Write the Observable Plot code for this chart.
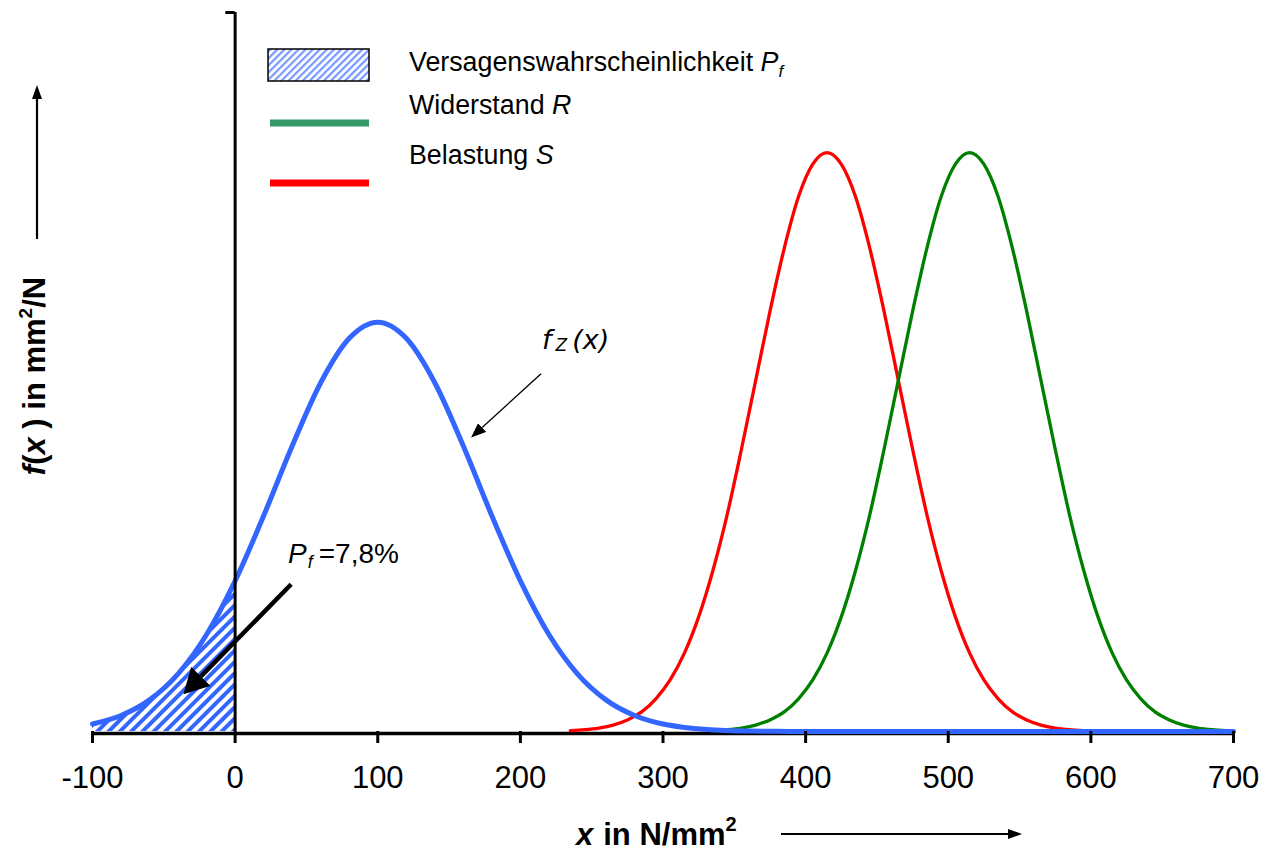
<!DOCTYPE html>
<html>
<head>
<meta charset="utf-8">
<script src="https://cdn.jsdelivr.net/npm/d3@7"></script>
<script src="https://cdn.jsdelivr.net/npm/@observablehq/plot@0.6"></script>
<style>
  html, body { margin: 0; padding: 0; background: #ffffff; }
  #wrap { position: relative; width: 1274px; height: 855px; overflow: hidden; }
  #wrap > svg { position: absolute; left: 0; top: 0; }
  #overlay text { font-family: "Liberation Sans", Arial, sans-serif; fill: #000; }
</style>
</head>
<body>
<div id="wrap"></div>
<script>
// ---------- data ----------
const ticksX = [-100, 0, 100, 200, 300, 400, 500, 600, 700];
const yTop = 9.91;   // top of the y axis (same units as the densities, ×10^-3)

// Belastung S (red)
const sX = [235,245,255,265,275,285,295,305,315,325,335,345,355,365,375,385,395,405,415,
            425,435,445,455,465,475,485,495,505,515,525,535,545,555,565,575,585,595];
const sY = [0.012,0.025,0.048,0.089,0.16,0.27,0.45,0.71,1.08,1.58,2.22,2.99,3.89,4.84,5.79,6.66,7.37,7.82,7.98,
            7.82,7.37,6.66,5.79,4.84,3.89,2.99,2.22,1.58,1.08,0.71,0.45,0.27,0.16,0.089,0.048,0.025,0.012];

// Widerstand R (green)
const rX = [335,345,355,365,375,385,395,405,415,425,435,445,455,465,475,485,495,505,515,
            525,535,545,555,565,575,585,595,605,615,625,635,645,655,665,675,685,695];
const rY = [0.012,0.025,0.048,0.089,0.16,0.27,0.45,0.71,1.08,1.58,2.22,2.99,3.89,4.84,5.79,6.66,7.37,7.82,7.98,
            7.82,7.37,6.66,5.79,4.84,3.89,2.99,2.22,1.58,1.08,0.71,0.45,0.27,0.16,0.089,0.048,0.025,0.012];

// Z = R - S (blue)
const zX = [-100,-80,-60,-40,-20,0,20,40,60,80,100,120,140,160,180,200,220,240,260,280,300,320,340,360,380,400,500,600,700];
const zY = [0.103,0.221,0.436,0.795,1.337,2.075,2.973,3.935,4.807,5.419,5.642,5.419,4.807,3.935,2.973,2.075,
            1.337,0.795,0.436,0.221,0.103,0.045,0.018,0.0065,0.0022,0.0007,0,0,0];

// annotation arrows (start -> base of arrow head), in data units
const arrowFz = [{x1: 214.5, y1: 4.93, x2: 173.2, y2: 4.19}];
const arrowPf = [{x1: 39.3, y1: 2.03, x2: -24.0, y2: 0.76}];

// ---------- tables ----------
const toRows = (xs, ys) => xs.map((x, i) => ({x, y: ys[i]}));
const sData = toRows(sX, sY);
const rData = toRows(rX, rY);
const zData = toRows(zX, zY);
const pfData = zData.filter(d => d.x <= 0);

const chart = Plot.plot({
  width: 1274,
  height: 855,
  marginLeft: 92,
  marginRight: 41,
  marginTop: 12,
  marginBottom: 124,
  x: {domain: [-100, 700]},
  y: {domain: [0, yTop], axis: null},
  style: {fontFamily: "'Liberation Sans', Arial, sans-serif", background: "transparent", color: "black"},
  marks: [
    Plot.areaY(pfData, {x: "x", y: "y", fill: "url(#hatchMain)", curve: "monotone-x"}),
    Plot.ruleY([0], {stroke: "black", strokeWidth: 3.5, dy: 2}),
    Plot.line(sData, {x: "x", y: "y", stroke: "#ff0000", strokeWidth: 3.3, curve: "monotone-x"}),
    Plot.line(rData, {x: "x", y: "y", stroke: "#008000", strokeWidth: 3.3, curve: "monotone-x"}),
    Plot.line(zData, {x: "x", y: "y", stroke: "#3366ff", strokeWidth: 5, curve: "monotone-x"}),
    Plot.ruleX([0], {y1: 0, y2: yTop, stroke: "black", strokeWidth: 3}),
    Plot.ruleY([yTop], {x1: -6.5, x2: 0, stroke: "black", strokeWidth: 3}),
    Plot.axisX({ticks: ticksX, tickSize: 12, tickPadding: 22, fontSize: 31, strokeWidth: 3,
                tickFormat: d => String(d), label: null, stroke: "black", fill: "black"}),
    Plot.link(arrowFz, {x1: "x1", y1: "y1", x2: "x2", y2: "y2", stroke: "black", strokeWidth: 1.3}),
    Plot.link(arrowPf, {x1: "x1", y1: "y1", x2: "x2", y2: "y2", stroke: "black", strokeWidth: 4.5})
  ]
});

// patterns and arrow heads
const svg = d3.select(chart);
const defs = svg.insert("defs", ":first-child");
const pm = defs.append("pattern").attr("id", "hatchMain").attr("patternUnits", "userSpaceOnUse")
  .attr("width", 8).attr("height", 8).attr("patternTransform", "rotate(45)");
pm.append("rect").attr("width", 8).attr("height", 8).attr("fill", "#ffffff");
pm.append("rect").attr("width", 4).attr("height", 8).attr("fill", "#3366ff");
const pl = defs.append("pattern").attr("id", "hatchLegend").attr("patternUnits", "userSpaceOnUse")
  .attr("width", 5).attr("height", 5).attr("patternTransform", "rotate(45)");
pl.append("rect").attr("width", 5).attr("height", 5).attr("fill", "#ffffff");
pl.append("rect").attr("width", 2.2).attr("height", 5).attr("fill", "#7799ff");

function head(id, len, wid) {
  defs.append("marker").attr("id", id).attr("markerUnits", "userSpaceOnUse")
    .attr("viewBox", `0 0 ${len} ${wid}`).attr("refX", 0).attr("refY", wid / 2)
    .attr("markerWidth", len).attr("markerHeight", wid).attr("orient", "auto")
    .append("path").attr("d", `M0,0L${len},${wid / 2}L0,${wid}Z`).attr("fill", "black");
}
head("headThin", 15, 12);
head("headThick", 25, 27);
const linkGroups = svg.selectAll('g[aria-label="link"]').nodes();
if (linkGroups[0]) d3.select(linkGroups[0]).selectAll("path").attr("marker-end", "url(#headThin)");
if (linkGroups[1]) d3.select(linkGroups[1]).selectAll("path").attr("marker-end", "url(#headThick)");

document.getElementById("wrap").appendChild(chart);

// overlay: legend, axis titles, annotation labels
const overlay = `
<svg id="overlay" width="1274" height="855" xmlns="http://www.w3.org/2000/svg">
  <defs>
    <marker id="headAxis" markerUnits="userSpaceOnUse" viewBox="0 0 14 10" refX="0" refY="5"
            markerWidth="14" markerHeight="10" orient="auto">
      <path d="M0,0L14,5L0,10Z" fill="black"/>
    </marker>
  </defs>
  <!-- legend -->
  <rect x="268" y="49" width="101" height="32" fill="url(#hatchLegend)" stroke="black" stroke-width="1.5"/>
  <rect x="270" y="119.5" width="99" height="7" fill="#339966"/>
  <rect x="270" y="179.5" width="99" height="7" fill="#ff0000"/>
  <text x="409" y="71" font-size="26.8">Versagenswahrscheinlichkeit <tspan font-style="italic">P</tspan><tspan font-style="italic" font-size="17" dy="6">f</tspan></text>
  <text x="409" y="114" font-size="26.8">Widerstand <tspan font-style="italic">R</tspan></text>
  <text x="409" y="164" font-size="26.8">Belastung <tspan font-style="italic">S</tspan></text>
  <!-- annotations -->
  <text x="542" y="349" font-size="27" font-style="italic" style="font-family:'DejaVu Sans',sans-serif">f<tspan font-size="17" dy="2" dx="4">Z</tspan><tspan dy="-2" dx="5">(x)</tspan></text>
  <text x="288" y="563" font-size="28"><tspan font-style="italic">P</tspan><tspan font-style="italic" font-size="18" dy="5" dx="1">f</tspan><tspan dy="-5" dx="6">=7,8%</tspan></text>
  <!-- y title -->
  <text transform="translate(45,376) rotate(-90)" text-anchor="middle" font-size="31" font-weight="bold"><tspan font-style="italic">f</tspan>(<tspan font-style="italic">x</tspan> ) in mm<tspan font-size="19" dy="-13">2</tspan><tspan dy="13">/N</tspan></text>
  <line x1="37" y1="239" x2="37" y2="99" stroke="black" stroke-width="2.2" marker-end="url(#headAxis)"/>
  <!-- x title -->
  <text x="576" y="845" font-size="31" font-weight="bold"><tspan font-style="italic">x</tspan><tspan dx="10">in N/mm</tspan><tspan font-size="20" dy="-14">2</tspan></text>
  <line x1="781" y1="834" x2="1008" y2="834" stroke="black" stroke-width="2.2" marker-end="url(#headAxis)"/>
</svg>`;
document.getElementById("wrap").insertAdjacentHTML("beforeend", overlay);
</script>
</body>
</html>
